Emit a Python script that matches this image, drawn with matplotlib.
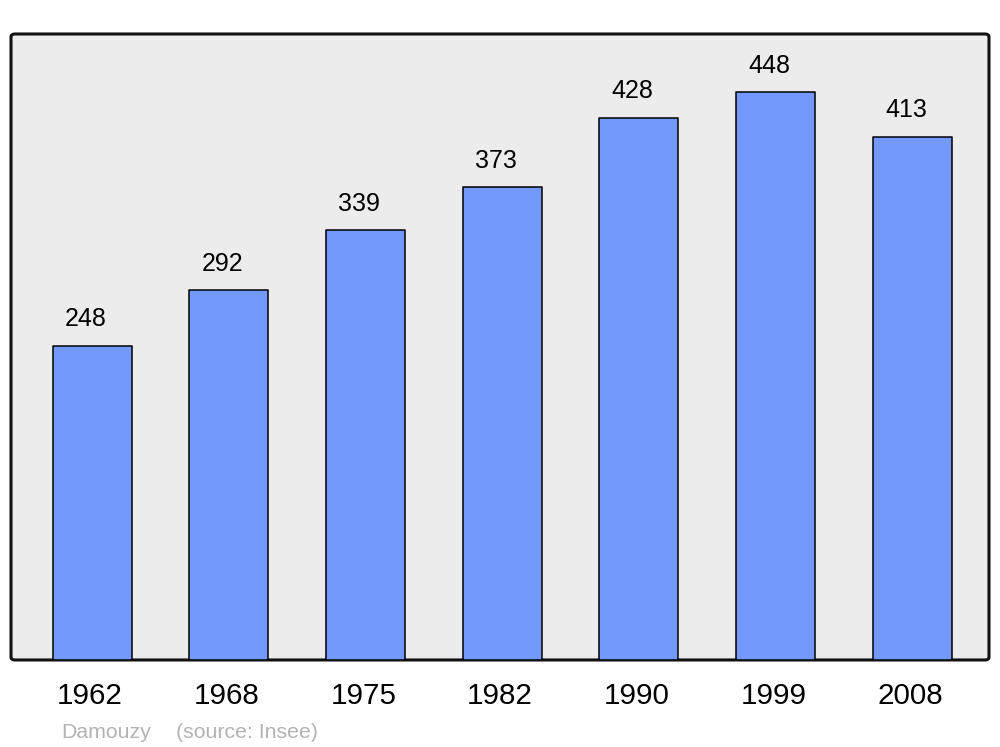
import matplotlib.pyplot as plt
from matplotlib.patches import FancyBboxPatch

years = ['1962', '1968', '1975', '1982', '1990', '1999', '2008']
population = [248, 292, 339, 373, 428, 448, 413]

plt.rcParams['font.family'] = ['Liberation Sans', 'DejaVu Sans']

fig = plt.figure(figsize=(10, 7.47), dpi=100)
ax = fig.add_axes([0.011, 0.1165, 0.978, 0.838])
ax.set_facecolor('none')
for s in ax.spines.values():
    s.set_visible(False)

# rounded frame with grey background
frame = FancyBboxPatch((0, 0), 1, 1, boxstyle='round,pad=0,rounding_size=0.004',
                       transform=ax.transAxes, facecolor='#ececec', edgecolor='#111111',
                       linewidth=2.2, zorder=0, clip_on=False, mutation_aspect=1.17)
ax.add_patch(frame)

x = range(len(years))
ax.bar(x, population, width=0.578, color='#7399ff', edgecolor='black',
       linewidth=1.1, joinstyle='round', zorder=2)

for i, v in enumerate(population):
    ax.annotate(str(v), xy=(i, v), xytext=(-4.3, 14), textcoords='offset points',
                ha='center', va='baseline', fontsize=18)
    ax.annotate(years[i], xy=(i, 0), xycoords=('data', 'axes fraction'),
                xytext=(-1.4, -32), textcoords='offset points',
                ha='center', va='baseline', fontsize=21.3, annotation_clip=False)

ax.set_xlim(-0.593, 6.563)
ax.set_ylim(0, 494)
ax.set_xticks([])
ax.set_yticks([])

fig.text(0.061, 0.012, 'Damouzy', color='#b3b3b3', fontsize=15.3, va='baseline')
fig.text(0.176, 0.012, '(source: Insee)', color='#b3b3b3', fontsize=15.3, va='baseline')

fig.savefig('out.png', dpi=100)
